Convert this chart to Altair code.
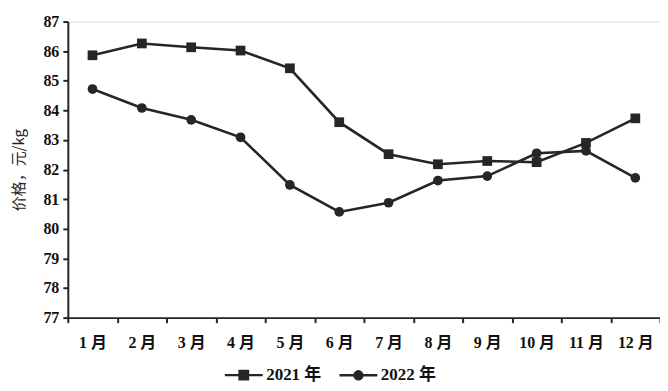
import altair as alt
import pandas as pd

months = ["1 月", "2 月", "3 月", "4 月", "5 月", "6 月", "7 月", "8 月", "9 月", "10 月", "11 月", "12 月"]
series = ["2021 年", "2022 年"]
p2021 = [85.86, 86.26, 86.13, 86.02, 85.42, 83.60, 82.52, 82.18, 82.29, 82.25, 82.90, 83.73]
p2022 = [84.72, 84.08, 83.68, 83.09, 81.48, 80.57, 80.88, 81.63, 81.78, 82.55, 82.63, 81.72]

rows = []
for i, m in enumerate(months):
    rows.append({"month": m, "series": series[0], "price": p2021[i], "order": i})
    rows.append({"month": m, "series": series[1], "price": p2022[i], "order": i})
df = pd.DataFrame(rows)

FONT = "Liberation Serif, Noto Sans CJK SC"
INK = "#262626"

x = alt.X("month:N", sort=months,
          scale=alt.Scale(type="band", paddingInner=0, paddingOuter=0),
          axis=alt.Axis(title=None, labelAngle=0, tickBand="extent", grid=False,
                        labelFont=FONT, labelFontSize=16, labelFontWeight="bold",
                        labelColor="#111", labelPadding=12, domainColor=INK,
                        domainWidth=2, tickColor=INK, tickWidth=2, tickSize=5))
y = alt.Y("price:Q", scale=alt.Scale(domain=[77, 87], nice=False, zero=False),
          axis=alt.Axis(title="价格，元/kg", values=list(range(77, 88)), grid=False,
                        labelFont=FONT, labelFontSize=16, labelFontWeight="bold",
                        labelColor="#111", labelPadding=4, domainColor=INK,
                        domainWidth=2, tickColor=INK, tickWidth=2, tickSize=5,
                        titleFont="Noto Sans CJK SC", titleFontSize=15,
                        titleFontWeight="normal", titleColor="#222", titlePadding=16))

base = alt.Chart(df)

lines = base.mark_line(color=INK, strokeWidth=2.6).encode(
    x=x, y=y, detail="series:N", order="order:Q")

points = base.mark_point(filled=True, color=INK, opacity=1, size=95).encode(
    x=x, y=y,
    shape=alt.Shape("series:N", scale=alt.Scale(domain=series, range=["square", "circle"]),
                    legend=None))

sq_path = "M-3.8,0H3.8M-0.85,-0.85H0.85V0.85H-0.85Z"
ci_path = "M-3.8,0H3.8M-0.8,0A0.8,0.8 0 1,0 0.8,0A0.8,0.8 0 1,0 -0.8,0Z"

legend_layer = base.transform_filter("false").mark_point(
    filled=False, fill=INK, stroke=INK, strokeWidth=2.4, opacity=1).encode(
    x=x, y=y,
    shape=alt.Shape("series:N", scale=alt.Scale(domain=series, range=[sq_path, ci_path]),
                    legend=alt.Legend(orient="none", legendX=168, legendY=346,
                                      direction="horizontal", title=None,
                                      symbolSize=100, symbolStrokeWidth=2.4,
                                      symbolOpacity=1,
                                      labelFont=FONT, labelFontSize=17,
                                      labelFontWeight="bold", labelColor="#111",
                                      labelOffset=14, columnPadding=12)))

chart = alt.layer(lines, points, legend_layer).resolve_scale(shape="independent").properties(
    width=594, height=297,
    autosize=alt.AutoSizeParams(type="none"),
    padding={"left": 60, "top": 13, "right": 0, "bottom": 65},
).configure_view(stroke=None).configure(background="white")

chart.save("out.html", embed_options={"renderer": "svg", "actions": False})
